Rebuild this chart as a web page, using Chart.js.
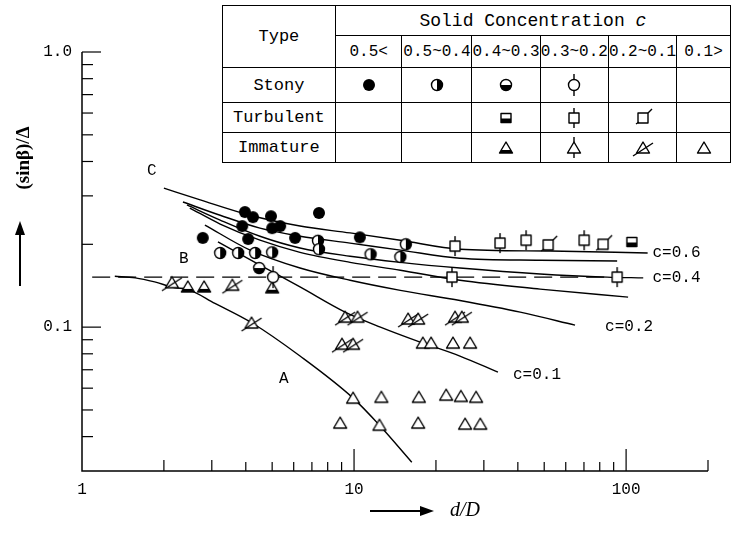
<!DOCTYPE html>
<html><head><meta charset="utf-8">
<script src="https://cdn.jsdelivr.net/npm/chart.js@4"></script>
<style>
html,body{margin:0;padding:0;background:#fff;}
#wrap{position:relative;width:731px;height:533px;overflow:hidden;background:#fff;}
#c{position:absolute;left:0;top:0;}
#leg{position:absolute;left:222px;top:5px;border-collapse:collapse;table-layout:fixed;font-family:"Liberation Mono",monospace;font-size:16px;color:#000;background:#fff;}
#leg td{border:1.5px solid #000;padding:0;text-align:center;vertical-align:middle;overflow:hidden;white-space:nowrap;}
#leg canvas{display:block;margin:0 auto;}
</style></head>
<body><div id="wrap"><canvas id="c" width="731" height="533"></canvas>
<table id="leg">
<colgroup><col style="width:113px"><col style="width:67px"><col style="width:70px"><col style="width:68px"><col style="width:68px"><col style="width:67px"><col style="width:54px"></colgroup>
<tr style="height:30px"><td rowspan="2" style="font-size:17px">Type</td><td colspan="6" style="font-size:18px">Solid Concentration <i>c</i></td></tr>
<tr style="height:32px"><td>0.5&lt;</td><td>0.5~0.4</td><td>0.4~0.3</td><td>0.3~0.2</td><td>0.2~0.1</td><td>0.1&gt;</td></tr>
<tr style="height:35px"><td style="font-size:17px">Stony</td><td id="m_s1"></td><td id="m_s2"></td><td id="m_s3"></td><td id="m_s4"></td><td></td><td></td></tr>
<tr style="height:30px"><td style="font-size:17px">Turbulent</td><td></td><td></td><td id="m_t3"></td><td id="m_t4"></td><td id="m_t5"></td><td></td></tr>
<tr style="height:30px"><td style="font-size:17px">Immature</td><td></td><td></td><td id="m_i3"></td><td id="m_i4"></td><td id="m_i5"></td><td id="m_i6"></td></tr>
</table>
</div>
<script>
// ---------- data ----------
const xTickValues = [1, 10, 100];
const xTickLabels = ['1', '10', '100'];
const yTickValues = [0.1, 1.0];
const yTickLabels = ['0.1', '1.0'];

// Stony
const stony05   = [[3.97,0.262],[4.25,0.251],[4.95,0.253],[5.35,0.233],[3.88,0.233],[5.0,0.229],[7.43,0.260],[4.08,0.209],[6.07,0.211],[10.5,0.212],[2.78,0.211]];
const stony0504 = [[3.22,0.186],[3.75,0.186],[4.33,0.186],[5.0,0.187],[7.37,0.206],[7.43,0.192],[11.5,0.184],[14.8,0.180],[15.5,0.200]];
const stony0403 = [[4.48,0.164]];
const stony0302 = [[5.04,0.152]];
// Turbulent
const turb0403 = [[105,0.204]];
const turb0302 = [[23.5,0.197],[34.4,0.202],[42.9,0.207],[70.1,0.207],[92.7,0.152],[22.9,0.152]];
const turb0201 = [[51.7,0.199],[82.3,0.200]];
// Immature
const imm0403 = [[2.45,0.140],[2.81,0.140],[5.0,0.139]];
const imm0201 = [[2.14,0.145],[3.57,0.142],[4.20,0.1035],[9.27,0.1087],[10.3,0.1087],[15.8,0.107],[17.2,0.107],[23.5,0.1087],[24.9,0.1087],[9.03,0.0867],[9.92,0.0867]];
const imm01   = [[17.9,0.0875],[19.2,0.0875],[23.1,0.0875],[26.7,0.0875],[9.92,0.0552],[12.6,0.0556],[17.3,0.0556],[21.8,0.0566],[24.7,0.056],[28.1,0.0556],[8.89,0.0448],[12.4,0.0440],[17.2,0.0448],[25.6,0.0444],[29.1,0.0444]];

// Curves
const curveC06 = [[2.00,0.320],[2.72,0.290],[4.15,0.255],[6.33,0.233],[9.67,0.220],[14.8,0.207],[24.5,0.192],[52.6,0.189],[120,0.186]];
const curve2   = [[2.35,0.285],[3.22,0.255],[4.51,0.229],[6.33,0.214],[9.67,0.202],[14.8,0.1905],[24.5,0.178],[48.3,0.175],[92.7,0.174]];
const curve04  = [[2.43,0.278],[3.22,0.245],[4.51,0.214],[6.33,0.194],[9.67,0.181],[14.8,0.172],[24.5,0.164],[48.3,0.156],[85.1,0.152],[115.6,0.151]];
const curve4   = [[2.49,0.271],[3.22,0.237],[4.51,0.207],[6.33,0.187],[9.67,0.172],[14.8,0.161],[24.5,0.148],[48.3,0.1375],[101.7,0.1285]];
const curve02  = [[2.83,0.235],[4.15,0.1905],[6.33,0.164],[9.67,0.148],[14.8,0.136],[24.5,0.125],[40.8,0.1134],[64.9,0.1017]];
const curve01  = [[3.16,0.204],[4.51,0.168],[6.33,0.140],[9.27,0.1134],[12.5,0.100],[17.5,0.0882],[24.5,0.0785],[33.8,0.0686]];
const curveA   = [[1.32,0.153],[1.57,0.151],[1.85,0.146],[2.20,0.139],[2.43,0.1375],[3.08,0.122],[4.22,0.1035],[6.33,0.0785],[9.92,0.0552],[12.4,0.0440],[16.3,0.0323]];
const lineB    = [[1.09,0.152],[85,0.152]];

// Curve / region labels
const labelText = ['C', 'B', 'A', 'c=0.6', 'c=0.4', 'c=0.2', 'c=0.1'];
const labelPos  = [[1.81,0.369],[2.37,0.177],[5.53,0.0648],[125,0.187],[125,0.151],[83.7,0.100],[38.4,0.0669]];

// ---------- markers ----------
function tri(g){ g.beginPath(); g.moveTo(0,-6); g.lineTo(6.5,5); g.lineTo(-6.5,5); g.closePath(); }
const drawers = {
  fcirc(g){ g.beginPath(); g.arc(0,0,6,0,Math.PI*2); g.fill(); },
  hcircR(g){ g.beginPath(); g.arc(0,0,5.5,0,Math.PI*2); g.fillStyle='#fff'; g.fill(); g.fillStyle='#000';
    g.beginPath(); g.arc(0,0,5.5,-Math.PI/2,Math.PI/2); g.closePath(); g.fill();
    g.beginPath(); g.arc(0,0,5.5,0,Math.PI*2); g.stroke(); },
  hcircB(g){ g.beginPath(); g.arc(0,0,5.5,0,Math.PI*2); g.fillStyle='#fff'; g.fill(); g.fillStyle='#000';
    g.beginPath(); g.arc(0,0,5.5,0,Math.PI); g.closePath(); g.fill();
    g.beginPath(); g.arc(0,0,5.5,0,Math.PI*2); g.stroke(); },
  stemCirc(g){ g.beginPath(); g.arc(0,0,5.5,0,Math.PI*2); g.fillStyle='#fff'; g.fill(); g.stroke();
    g.beginPath(); g.moveTo(0,-5.5); g.lineTo(0,-11); g.moveTo(0,5.5); g.lineTo(0,11); g.stroke(); },
  sqB(g){ g.fillStyle='#fff'; g.fillRect(-5,-4.5,10,9); g.fillStyle='#000'; g.fillRect(-5,0.5,10,4); g.strokeRect(-5,-4.5,10,9); },
  sqStem(g){ g.fillStyle='#fff'; g.fillRect(-5,-5,10,10); g.strokeRect(-5,-5,10,10);
    g.beginPath(); g.moveTo(0,-5); g.lineTo(0,-10); g.moveTo(0,5); g.lineTo(0,10); g.stroke(); },
  sqFlag(g){ g.fillStyle='#fff'; g.fillRect(-5,-5,10,10); g.strokeRect(-5,-5,10,10);
    g.beginPath(); g.moveTo(-7,6); g.lineTo(-4,4); g.moveTo(5,-5); g.lineTo(9,-9); g.stroke(); },
  triB(g){ tri(g); g.fillStyle='#fff'; g.fill(); g.fillStyle='#000';
    g.beginPath(); g.moveTo(-4.7,2); g.lineTo(4.7,2); g.lineTo(6.5,5); g.lineTo(-6.5,5); g.closePath(); g.fill();
    tri(g); g.stroke(); },
  triStem(g){ tri(g); g.fillStyle='#fff'; g.fill(); g.stroke();
    g.beginPath(); g.moveTo(0,-6); g.lineTo(0,-11); g.moveTo(0,5); g.lineTo(0,10); g.stroke(); },
  triFlag(g){ tri(g); g.fillStyle='#fff'; g.fill(); g.stroke();
    g.beginPath(); g.moveTo(-10,8); g.lineTo(10,-5); g.stroke(); },
  tri(g){ tri(g); g.fillStyle='#fff'; g.fill(); g.stroke(); }
};
function makeMarker(kind){
  const c=document.createElement('canvas'); c.width=28; c.height=28;
  const g=c.getContext('2d'); g.translate(14,14);
  g.lineWidth=1.4; g.strokeStyle='#000'; g.fillStyle='#000'; g.lineJoin='round';
  drawers[kind](g); return c;
}
[['m_s1','fcirc'],['m_s2','hcircR'],['m_s3','hcircB'],['m_s4','stemCirc'],['m_t3','sqB'],['m_t4','sqStem'],['m_t5','sqFlag'],
 ['m_i3','triB'],['m_i4','triStem'],['m_i5','triFlag'],['m_i6','tri']].forEach(([id,k])=>{
  document.getElementById(id).appendChild(makeMarker(k));
});

const pts = a => a.map(p=>({x:p[0],y:p[1]}));
function markerSet(arr, kind){
  return {type:'scatter', data:pts(arr), pointStyle:makeMarker(kind), pointRadius:7, order:0, showLine:false};
}
function curveSet(arr, dash){
  return {type:'line', data:pts(arr), borderColor:'#000', borderWidth:1.4, pointRadius:0, fill:false,
    cubicInterpolationMode:'monotone', borderDash:dash||[], order:1};
}

const decorPlugin = {
  id:'decor',
  afterDraw(chart){
    const ctx=chart.ctx, xs=chart.scales.x, ys=chart.scales.y, a=chart.chartArea;
    ctx.save();
    ctx.strokeStyle='#000'; ctx.fillStyle='#000'; ctx.lineWidth=1.5;
    ctx.beginPath(); ctx.moveTo(a.left,a.top); ctx.lineTo(a.left,a.bottom); ctx.lineTo(a.right,a.bottom); ctx.stroke();
    ctx.lineWidth=1.2;
    for(let d=1; d<=100; d*=10){
      for(let m=1; m<=9; m++){
        const v=d*m; if(v>200) break; if(v===1) continue;
        const px=xs.getPixelForValue(v);
        const len = (m===1)?22:((m===2||m===3)?11:9);
        ctx.beginPath(); ctx.moveTo(px,a.bottom); ctx.lineTo(px,a.bottom-len); ctx.stroke();
      }
    }
    for(let d=0.01; d<=1.0001; d*=10){
      for(let m=1; m<=9; m++){
        const v=d*m; if(v<0.0399 || v>1.0001) continue;
        const py=ys.getPixelForValue(v);
        const len = (m===1)?19:11;
        ctx.beginPath(); ctx.moveTo(a.left,py); ctx.lineTo(a.left+len,py); ctx.stroke();
      }
    }
    ctx.font='16px "Liberation Mono", monospace';
    ctx.textAlign='center'; ctx.textBaseline='middle';
    xTickValues.forEach((v,i)=>ctx.fillText(xTickLabels[i], xs.getPixelForValue(v), a.bottom+19));
    ctx.textAlign='right';
    yTickValues.forEach((v,i)=>ctx.fillText(yTickLabels[i], a.left-10, ys.getPixelForValue(v)));
    ctx.font='16px "Liberation Mono", monospace';
    ctx.textAlign='left';
    labelText.forEach((t,i)=>{
      ctx.fillText(t, xs.getPixelForValue(labelPos[i][0]) - (t.length===1?5:0), ys.getPixelForValue(labelPos[i][1]));
    });
    ctx.save(); ctx.translate(24,158); ctx.rotate(-Math.PI/2);
    ctx.font='bold 19px "Liberation Serif", serif'; ctx.textAlign='center'; ctx.textBaseline='middle';
    ctx.fillText('(sin\u03B2)/\u0394',0,0); ctx.restore();
    ctx.lineWidth=2; ctx.beginPath(); ctx.moveTo(20,286); ctx.lineTo(20,232); ctx.stroke();
    ctx.beginPath(); ctx.moveTo(20,221); ctx.lineTo(15,235); ctx.lineTo(25,235); ctx.closePath(); ctx.fill();
    ctx.beginPath(); ctx.moveTo(370,511); ctx.lineTo(422,511); ctx.stroke();
    ctx.beginPath(); ctx.moveTo(434,511); ctx.lineTo(420,506); ctx.lineTo(420,516); ctx.closePath(); ctx.fill();
    ctx.font='italic 20px "Liberation Serif", serif'; ctx.textAlign='left'; ctx.textBaseline='middle';
    ctx.fillText('d/D', 450, 511);
    ctx.restore();
  }
};

new Chart(document.getElementById('c'), {
  type:'scatter',
  data:{datasets:[
    markerSet(stony05,'fcirc'), markerSet(stony0504,'hcircR'), markerSet(stony0403,'hcircB'), markerSet(stony0302,'stemCirc'),
    markerSet(turb0403,'sqB'), markerSet(turb0302,'sqStem'), markerSet(turb0201,'sqFlag'),
    markerSet(imm0403,'triB'), markerSet(imm0201,'triFlag'), markerSet(imm01,'tri'),
    curveSet(curveC06), curveSet(curve2), curveSet(curve04), curveSet(curve4), curveSet(curve02), curveSet(curve01), curveSet(curveA),
    curveSet(lineB,[18,8])
  ]},
  options:{
    responsive:false, animation:false, devicePixelRatio:1,
    layout:{padding:{left:82,top:52,right:23,bottom:62}},
    plugins:{legend:{display:false}, tooltip:{enabled:false}},
    scales:{
      x:{type:'logarithmic', min:1, max:200, display:false},
      y:{type:'logarithmic', min:0.03, max:1, display:false}
    }
  },
  plugins:[decorPlugin]
});
</script>
</body></html>
